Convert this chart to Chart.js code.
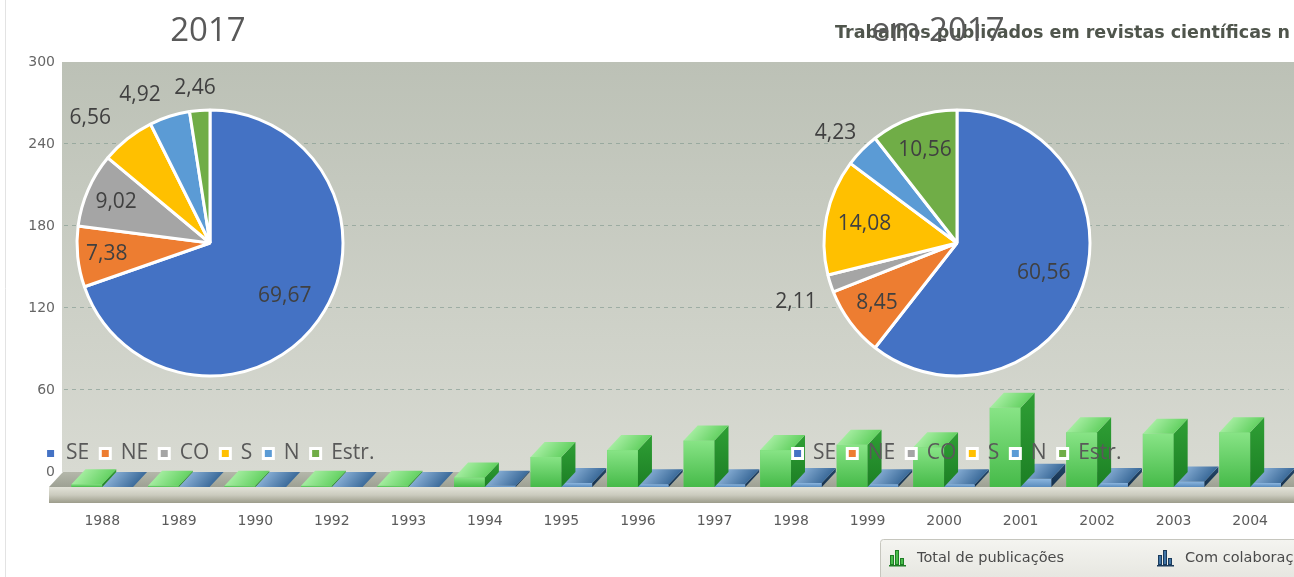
<!DOCTYPE html>
<html lang="pt-BR">
<head>
<meta charset="utf-8">
<title>Publicações por região - 2017</title>
<script src="https://cdn.jsdelivr.net/npm/chart.js@4.4.1/dist/chart.umd.min.js"></script>
<style>
  html, body { margin: 0; padding: 0; background: #fff; overflow: hidden; }
  #tela { position: relative; width: 1294px; height: 577px; overflow: hidden; }
  canvas { position: absolute; top: 0; }
  #barras { left: 0; z-index: 1; }
  #pizzaEsq { left: 0; z-index: 3; }
  #pizzaDir { left: 747px; z-index: 3; }
  .titulo { position: absolute; white-space: nowrap; }
  #tituloBarras { left: 835px; top: 22px; z-index: 2; font: bold 17.5px/20px 'DejaVu Sans', sans-serif; color: #4f554c; }
  .tituloPizza { z-index: 4; width: 300px; text-align: center; font: 33px/40px 'Open Sans', sans-serif; color: #595959; }
  #tituloEsq { left: 58px; top: 9px; }
  #tituloDir { left: 788px; top: 9px; }
</style>
</head>
<body>
<div id="tela">
  <canvas id="barras" width="1294" height="577"></canvas>
  <div class="titulo" id="tituloBarras">Trabalhos publicados em revistas científicas n</div>
  <canvas id="pizzaEsq" width="420" height="474"></canvas>
  <canvas id="pizzaDir" width="420" height="474"></canvas>
  <div class="titulo tituloPizza" id="tituloEsq">2017</div>
  <div class="titulo tituloPizza" id="tituloDir">em 2017</div>
</div>
<script>
// dados do gráfico de barras (fundo)
const anos = ['1988', '1989', '1990', '1992', '1993', '1994', '1995', '1996', '1997', '1998', '1999', '2000', '2001', '2002', '2003', '2004'];
const totalPublicacoes = [2, 1, 1, 1, 1, 7, 22, 27, 34, 27, 31, 29, 58, 40, 39, 40];
const comColaboracao = [0, 0, 0, 0, 0, 1, 3, 2, 2, 3, 2, 2, 6, 3, 4, 3];
const marcasY = [0, 60, 120, 180, 240, 300];

// dados das pizzas (%)
const regioes = ['SE', 'NE', 'CO', 'S', 'N', 'Estr.'];
const pctEsquerda = [69.67, 7.38, 9.02, 6.56, 4.92, 2.46];
const pctDireita = [60.56, 8.45, 2.11, 14.08, 4.23, 10.56];
const coresRegioes = ['#4472C4', '#ED7D31', '#A5A5A5', '#FFC000', '#5B9BD5', '#70AD47'];

// estilo das barras 3D
const prof = { dx: 14, dy: 15 };
const estilos3d = [
    { frente: ['#88e486', '#46ba49'], lado: ['#2f9f35', '#1c7f24'], topo: ['#a2ec9e', '#66d264'], icone: '#48bd4b', contorno: '#1f7d25' },
    { frente: ['#8cb6df', '#5a8cbd'], lado: ['#24476b', '#14304c'], topo: ['#84abd2', '#3d6c9b'], icone: '#3f74a6', contorno: '#1b3b5c' }
];
const legendaBarrasX = [889, 1157];

const barras3d = {
    id: 'barras3d',
    beforeDraw(chart) {
        const ctx = chart.ctx;
        const a = chart.chartArea;
        const y0 = chart.scales.y.getPixelForValue(0);
        ctx.save();
        ctx.fillStyle = '#ffffff';
        ctx.fillRect(0, 0, chart.width, chart.height);
        ctx.strokeStyle = '#e3e3e3';
        ctx.lineWidth = 1;
        ctx.beginPath();
        ctx.moveTo(5.5, 0);
        ctx.lineTo(5.5, chart.height);
        ctx.stroke();
        const g = ctx.createLinearGradient(0, a.top, 0, y0);
        g.addColorStop(0, '#bcc1b6');
        g.addColorStop(1, '#d8dad2');
        ctx.fillStyle = g;
        ctx.fillRect(a.left - 2, a.top, chart.width - a.left + 2, y0 - a.top);
        ctx.restore();
    },
    beforeDatasetsDraw(chart) {
        const ctx = chart.ctx;
        const a = chart.chartArea;
        const y0 = chart.scales.y.getPixelForValue(0);
        const base = chart.scales.yBar.getPixelForValue(0);
        ctx.save();
        // piso (superfície)
        let g = ctx.createLinearGradient(0, y0, 0, base);
        g.addColorStop(0, '#b4b7aa');
        g.addColorStop(1, '#9ea194');
        ctx.fillStyle = g;
        ctx.beginPath();
        ctx.moveTo(a.left - 1, y0);
        ctx.lineTo(chart.width, y0);
        ctx.lineTo(chart.width, base);
        ctx.lineTo(a.left - 1 - prof.dx, base);
        ctx.closePath();
        ctx.fill();
        // piso (frente)
        g = ctx.createLinearGradient(0, base, 0, base + 16);
        g.addColorStop(0, '#e2e2d8');
        g.addColorStop(0.5, '#cbcbbe');
        g.addColorStop(1, '#9c9c8b');
        ctx.fillStyle = g;
        ctx.fillRect(a.left - 1 - prof.dx, base, chart.width, 16);
        ctx.restore();
    },
    afterDatasetDraw(chart, args) {
        const ctx = chart.ctx;
        const e = estilos3d[args.index];
        ctx.save();
        args.meta.data.forEach(bar => {
            const { x, y, base, width } = bar.getProps(['x', 'y', 'base', 'width'], true);
            const x0 = x - width / 2, x1 = x + width / 2;
            // frente
            if (base - y > 0.5) {
                const gf = ctx.createLinearGradient(0, y, 0, base);
                gf.addColorStop(0, e.frente[0]);
                gf.addColorStop(1, e.frente[1]);
                ctx.fillStyle = gf;
                ctx.fillRect(x0, y, width, base - y);
            }
            // lado
            const gl = ctx.createLinearGradient(0, y - prof.dy, 0, base);
            gl.addColorStop(0, e.lado[0]);
            gl.addColorStop(1, e.lado[1]);
            ctx.fillStyle = gl;
            ctx.beginPath();
            ctx.moveTo(x1, y);
            ctx.lineTo(x1 + prof.dx, y - prof.dy);
            ctx.lineTo(x1 + prof.dx, base - prof.dy);
            ctx.lineTo(x1, base);
            ctx.closePath();
            ctx.fill();
            // topo
            const gt = ctx.createLinearGradient(x0 + prof.dx, y - prof.dy, x1, y);
            gt.addColorStop(0, e.topo[0]);
            gt.addColorStop(1, e.topo[1]);
            ctx.fillStyle = gt;
            ctx.beginPath();
            ctx.moveTo(x0, y);
            ctx.lineTo(x0 + prof.dx, y - prof.dy);
            ctx.lineTo(x1 + prof.dx, y - prof.dy);
            ctx.lineTo(x1, y);
            ctx.closePath();
            ctx.fill();
        });
        ctx.restore();
    },
    afterDraw(chart) {
        const ctx = chart.ctx;
        ctx.save();
        // caixa da legenda
        const g = ctx.createLinearGradient(0, 540, 0, 577);
        g.addColorStop(0, '#f4f4f0');
        g.addColorStop(1, '#e7e7e1');
        ctx.fillStyle = g;
        ctx.strokeStyle = '#c6c6be';
        ctx.lineWidth = 1;
        ctx.beginPath();
        ctx.roundRect(880.5, 539.5, 500, 60, 3);
        ctx.fill();
        ctx.stroke();
        ctx.font = "14.5px 'DejaVu Sans'";
        ctx.fillStyle = '#4a4a4a';
        ctx.textBaseline = 'middle';
        chart.data.datasets.forEach((ds, i) => {
            const ix = legendaBarrasX[i];
            const e = estilos3d[i];
            const alturas = [10, 15, 7];
            alturas.forEach((h, k) => {
                ctx.fillStyle = e.icone;
                ctx.fillRect(ix + 1 + k * 5, 565 - h, 4, h);
                ctx.strokeStyle = e.contorno;
                ctx.strokeRect(ix + 1.5 + k * 5, 565.5 - h, 3, h - 1);
            });
            ctx.fillStyle = e.contorno;
            ctx.fillRect(ix, 565, 17, 1.5);
            ctx.fillStyle = '#4a4a4a';
            ctx.fillText(ds.label, ix + 28, 558);
        });
        ctx.restore();
    }
};

new Chart(document.getElementById('barras'), {
    type: 'bar',
    data: {
        labels: anos,
        datasets: [
            { label: 'Total de publicações', data: totalPublicacoes, backgroundColor: '#5fcf5f', yAxisID: 'yBar', categoryPercentage: 0.805, barPercentage: 1, borderWidth: 0 },
            { label: 'Com colaboração', data: comColaboracao, backgroundColor: '#6f9fce', yAxisID: 'yBar', categoryPercentage: 0.805, barPercentage: 1, borderWidth: 0 }
        ]
    },
    options: {
        responsive: false,
        animation: false,
        events: [],
        layout: { padding: { top: 62, right: 0, bottom: 0, left: 0 } },
        plugins: { legend: { display: false }, tooltip: { enabled: false } },
        scales: {
            x: {
                grid: { display: false, drawTicks: false },
                border: { display: false },
                ticks: { color: '#5b5b5b', font: { family: 'DejaVu Sans', size: 14 }, padding: 26, maxRotation: 0, autoSkip: false },
                afterFit: axis => { axis.height = 90; }
            },
            y: {
                min: -11,
                max: 300,
                afterBuildTicks: axis => { axis.ticks = marcasY.map(v => ({ value: v })); },
                afterFit: axis => { axis.width = 64; },
                grid: {
                    drawTicks: false,
                    color: c => (c.tick && c.tick.value > 0 && c.tick.value < 300) ? 'rgba(125,150,140,0.6)' : 'rgba(0,0,0,0)'
                },
                border: { display: false, dash: [4, 4] },
                ticks: { color: '#666', font: { family: 'DejaVu Sans', size: 14 }, padding: 9 }
            },
            yBar: { display: false, min: 0, max: 311 }
        }
    },
    plugins: [barras3d]
});

const rotulosPizza = {
    id: 'rotulosPizza',
    afterDatasetsDraw(chart, args, opts) {
        const ctx = chart.ctx;
        const meta = chart.getDatasetMeta(0);
        const valores = chart.data.datasets[0].data;
        ctx.save();
        ctx.font = "21px 'Open Sans'";
        ctx.fillStyle = '#404040';
        ctx.textAlign = 'center';
        ctx.textBaseline = 'middle';
        meta.data.forEach((arc, i) => {
            const p = arc.getProps(['x', 'y', 'startAngle', 'endAngle', 'outerRadius'], true);
            const ang = (p.startAngle + p.endAngle) / 2 + opts.giro[i] * Math.PI / 180;
            const r = p.outerRadius * opts.raio[i];
            ctx.fillText(valores[i].toFixed(2).replace('.', ','), p.x + Math.cos(ang) * r, p.y + Math.sin(ang) * r);
        });
        ctx.restore();
    }
};

function criarPizza(id, valores, posRotulos) {
    return new Chart(document.getElementById(id), {
        type: 'pie',
        data: {
            labels: regioes,
            datasets: [{
                data: valores,
                backgroundColor: coresRegioes,
                borderColor: '#ffffff',
                borderWidth: 3,
                hoverBorderWidth: 3,
                hoverOffset: 0
            }]
        },
        options: {
            responsive: false,
            animation: false,
            events: [],
            radius: 133,
            layout: { padding: { top: 54 } },
            plugins: {
                legend: {
                    position: 'bottom',
                    align: 'center',
                    labels: { boxWidth: 10, boxHeight: 10, padding: 11, color: '#595959', font: { family: 'Open Sans', size: 21 } }
                },
                tooltip: { enabled: false },
                rotulosPizza: posRotulos
            }
        },
        plugins: [rotulosPizza]
    });
}

criarPizza('pizzaEsq', pctEsquerda, { raio: [0.69, 0.78, 0.77, 1.3, 1.23, 1.17], giro: [0, 0, 0, -5.5, -7.6, -1.1] });
criarPizza('pizzaDir', pctDireita, { raio: [0.69, 0.75, 1.29, 0.71, 1.23, 0.74], giro: [0, 0, -2.5, 0, -2.3, 0] });
</script>
</body>
</html>
